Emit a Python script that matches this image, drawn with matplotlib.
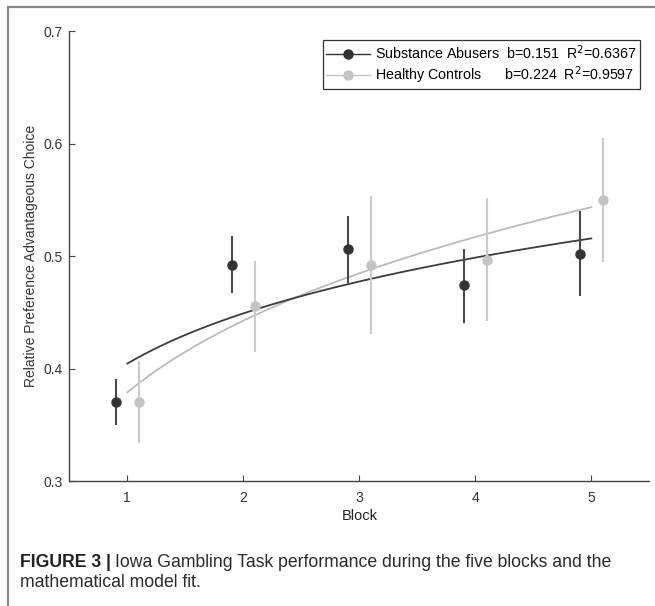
import numpy as np
import matplotlib
matplotlib.use("Agg")
import matplotlib.pyplot as plt
from matplotlib.lines import Line2D

plt.rcParams["font.family"] = ["Liberation Sans", "DejaVu Sans"]

# data
blocks = [1, 2, 3, 4, 5]
sa_mean = [0.370, 0.492, 0.506, 0.474, 0.502]
sa_lo = [0.350, 0.467, 0.476, 0.441, 0.465]
sa_hi = [0.391, 0.518, 0.536, 0.506, 0.540]
hc_mean = [0.370, 0.456, 0.492, 0.497, 0.550]
hc_lo = [0.334, 0.415, 0.431, 0.442, 0.495]
hc_hi = [0.407, 0.496, 0.553, 0.552, 0.605]

# power-law model fit y = a * block^b
sa_a, sa_b, sa_r2 = 0.4045, 0.151, 0.6367
hc_a, hc_b, hc_r2 = 0.379, 0.224, 0.9597

DARK = "#333333"
DARK_BAR = "#4a4a4a"
LIGHT = "#c4c4c4"

fig = plt.figure(figsize=(6.55, 6.06), dpi=100)
ax = fig.add_axes([0.1058, 0.2058, 0.8855, 0.743])

x = np.array(blocks, dtype=float)
xf = np.linspace(1, 5, 200)

# model curves
ax.plot(xf, hc_a * xf ** hc_b, color="#bbbbbb", lw=1.3, zorder=2)
ax.plot(xf, sa_a * xf ** sa_b, color="#3c3c3c", lw=1.3, zorder=2)

# means with error bars, offset left/right of each block
sa_m = np.array(sa_mean)
hc_m = np.array(hc_mean)
ax.errorbar(x - 0.1, sa_m, yerr=[sa_m - np.array(sa_lo), np.array(sa_hi) - sa_m],
            fmt="o", color=DARK, ecolor=DARK_BAR, elinewidth=1.5, capsize=0,
            ms=6.5, zorder=4)
ax.errorbar(x + 0.1, hc_m, yerr=[hc_m - np.array(hc_lo), np.array(hc_hi) - hc_m],
            fmt="o", color=LIGHT, ecolor="#cccccc", elinewidth=1.5, capsize=0,
            ms=6.5, zorder=3)

ax.set_xlim(0.5, 5.5)
ax.set_ylim(0.3, 0.7)
ax.set_xticks(blocks)
ax.set_yticks([0.3, 0.4, 0.5, 0.6, 0.7])
ax.set_yticklabels(["0.3", "0.4", "0.5", "0.6", "0.7"])
for s in ["top", "right"]:
    ax.spines[s].set_visible(False)
for s in ["left", "bottom"]:
    ax.spines[s].set_color("#444444")
    ax.spines[s].set_linewidth(1.0)
ax.tick_params(direction="in", length=4, width=0.8, color="#444444",
               labelsize=10, labelcolor="#333333")
ax.tick_params(axis="x", pad=7)
ax.tick_params(axis="y", pad=5)
ax.set_xlabel("Block", fontsize=10.5, color="#222222", labelpad=3)
ax.set_ylabel("Relative Preference Advantageous Choice", fontsize=10,
              color="#333333", labelpad=4)

handles = [Line2D([0], [0], color=DARK, lw=1.0, marker="o", ms=6.5),
           Line2D([0], [0], color=LIGHT, lw=1.0, marker="o", ms=6.5)]
labels = [f"Substance Abusers  b={sa_b:.3f}  R$^2$={sa_r2:.4f}",
          f"Healthy Controls      b={hc_b:.3f}  R$^2$={hc_r2:.4f}"]
leg = ax.legend(handles, labels, loc="upper right", bbox_to_anchor=(0.984, 0.98),
                fontsize=10.3, handlelength=3.1, handletextpad=0.3,
                borderpad=0.25, labelspacing=0.12, fancybox=False, framealpha=1,
                edgecolor="#333333", borderaxespad=0)
leg.get_frame().set_linewidth(0.9)

# figure panel border (left and top)
fig.add_artist(Line2D([0.012, 0.012], [0.0, 0.989], transform=fig.transFigure,
                      color="#888888", lw=1.6))
fig.add_artist(Line2D([0.012, 1.0], [0.989, 0.989], transform=fig.transFigure,
                      color="#888888", lw=1.6))

# caption: bold figure tag followed by regular text
cap_size = 12.7
t1 = fig.text(0.031, 0.071, "FIGURE 3 |", fontsize=cap_size, fontweight="bold",
              color="#222222", va="center")
fig.canvas.draw()
bb = t1.get_window_extent(renderer=fig.canvas.get_renderer())
x1 = (bb.x1 + 4) / fig.bbox.width
fig.text(x1, 0.071, "Iowa Gambling Task performance during the five blocks and the",
         fontsize=cap_size, color="#2a2a2a", va="center")
fig.text(0.031, 0.039, "mathematical model fit.", fontsize=cap_size,
         color="#2a2a2a", va="center")

fig.savefig("out.png", dpi=100)
